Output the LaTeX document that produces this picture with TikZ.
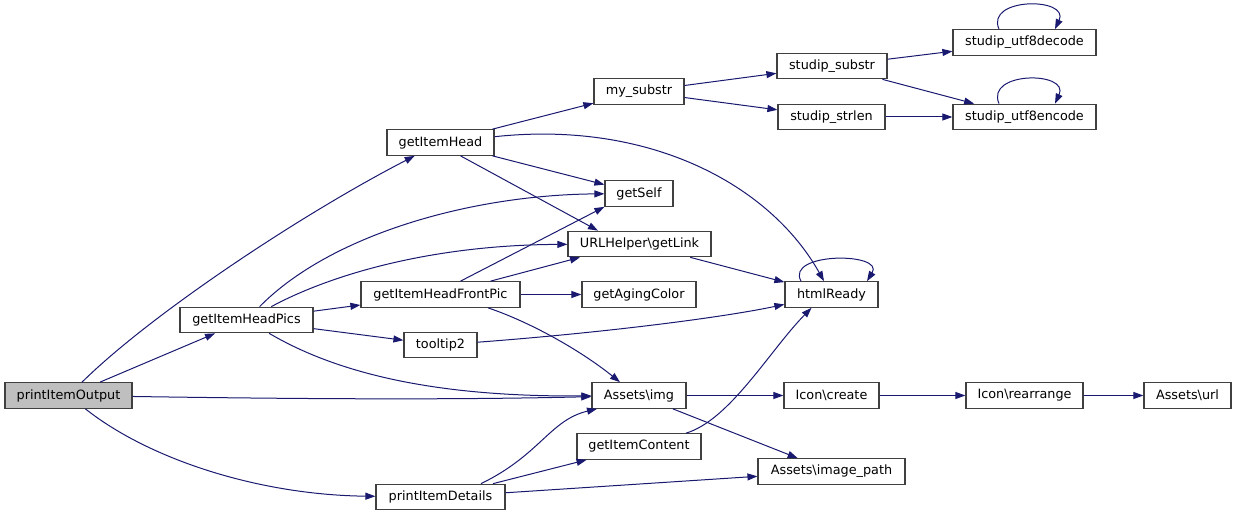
\documentclass[tikz,border=0pt]{standalone}
\usepackage{fontspec}
\newfontfamily\dejavu{DejaVu Sans}
\usetikzlibrary{arrows.meta}
\definecolor{mblue}{HTML}{191970}
\definecolor{grey25}{HTML}{404040}
\definecolor{grey75}{HTML}{BFBFBF}
\tikzset{
  box/.style={draw=grey25, line width=1.2pt, fill=white, minimum height=25.5pt,
    inner sep=0pt, font=\dejavu\fontsize{12.8}{15}\selectfont},
  rootbox/.style={box, fill=grey75},
  e/.style={draw=mblue, line width=1pt, -{Triangle[length=10pt,width=7pt]}}
}
\begin{document}
\begin{tikzpicture}[x=1pt,y=-1pt]
\useasboundingbox (0,0) rectangle (1236,516);
% nodes
\node[rootbox, minimum width=127pt] (pio) at (68.5,395.5) {printItemOutput};
\node[box, minimum width=133pt] (heads) at (246.5,320) {getItemHeadPics};
\node[box, minimum width=107pt] (head) at (440.5,142.5) {getItemHead};
\node[box, minimum width=159pt] (front) at (440.5,294.5) {getItemHeadFrontPic};
\node[box, minimum width=73pt] (tip) at (440.5,345) {tooltip2};
\node[box, minimum width=129pt] (details) at (440.5,497) {printItemDetails};
\node[box, minimum width=90pt] (mysub) at (639,91.5) {my\_substr};
\node[box, minimum width=68pt] (self) at (639,193.5) {getSelf};
\node[box, minimum width=143pt] (link) at (639.5,244) {URLHelper\textbackslash getLink};
\node[box, minimum width=114pt] (aging) at (639,294.5) {getAgingColor};
\node[box, minimum width=94pt] (img) at (639,395.5) {Assets\textbackslash img};
\node[box, minimum width=124pt] (content) at (639,446.5) {getItemContent};
\node[box, minimum width=110pt] (ssub) at (832,66) {studip\_substr};
\node[box, minimum width=107pt] (slen) at (831.5,117) {studip\_strlen};
\node[box, minimum width=93pt] (html) at (831.5,294.5) {htmlReady};
\node[box, minimum width=95pt] (create) at (831.5,395.5) {Icon\textbackslash create};
\node[box, minimum width=147pt] (ipath) at (831.5,471.5) {Assets\textbackslash image\_path};
\node[box, minimum width=143pt] (dec) at (1024.5,42.5) {studip\_utf8decode};
\node[box, minimum width=143pt] (enc) at (1024.5,117) {studip\_utf8encode};
\node[box, minimum width=117pt] (rearr) at (1024.5,395.5) {Icon\textbackslash rearrange};
\node[box, minimum width=87pt] (url) at (1187.5,395.5) {Assets\textbackslash url};
% edges
\draw[e] (pio) .. controls (150,315) and (300,215) .. (head);
\draw[e] (pio) -- (heads);
\draw[e] (pio) .. controls (300,399) and (450,400) .. (img);
\draw[e] (pio) .. controls (150,460) and (260,495) .. (details);
\draw[e] (heads) .. controls (330,235) and (470,195) .. (self);
\draw[e] (heads) .. controls (330,275) and (430,245) .. (link);
\draw[e] (heads) -- (front);
\draw[e] (heads) -- (tip);
\draw[e] (heads) .. controls (340,375) and (440,397) .. (img);
\draw[e] (head) -- (mysub);
\draw[e] (head) -- (self);
\draw[e] ([xshift=20pt]head.south) -- ([xshift=-41.5pt]link.north);
\draw[e] (head) .. controls (650,120) and (770,185) .. (html);
\draw[e] (mysub) -- (ssub);
\draw[e] (mysub) -- (slen);
\draw[e] (ssub) -- (dec);
\draw[e] (ssub) -- (enc);
\draw[e] (slen) -- (enc);
\draw[e] ([xshift=-25.5pt]dec.north) .. controls (985,-3) and (1070,-3) .. ([xshift=30.5pt]dec.north);
\draw[e] ([xshift=-25.5pt]enc.north) .. controls (985,71) and (1070,71) .. ([xshift=30.5pt]enc.north);
\draw[e] ([xshift=20pt]front.north) -- (self.south west);
\draw[e] ([xshift=50pt]front.north) -- ([xshift=-59.5pt]link.south);
\draw[e] (front) -- (aging);
\draw[e] ([xshift=47.5pt]front.south) .. controls (530,322) and (580,350) .. ([xshift=-19pt]img.north);
\draw[e] (link) -- (html);
\draw[e] ([xshift=-30.5pt]html.north) .. controls (785,252) and (885,252) .. ([xshift=35.5pt]html.north);
\draw[e] (tip) .. controls (600,333) and (720,318) .. (html);
\draw[e] (img) -- (create);
\draw[e] (img) -- (ipath);
\draw[e] (create) -- (rearr);
\draw[e] (rearr) -- (url);
\draw[e] ([xshift=47pt]content.north) .. controls (730,420) and (770,350) .. ([xshift=-20pt]html.south);
\draw[e] ([xshift=40.5pt]details.north) .. controls (540,455) and (550,420) .. ([xshift=-42pt]img.south);
\draw[e] (details) -- (content);
\draw[e] (details) -- (ipath);
\end{tikzpicture}
\end{document}
